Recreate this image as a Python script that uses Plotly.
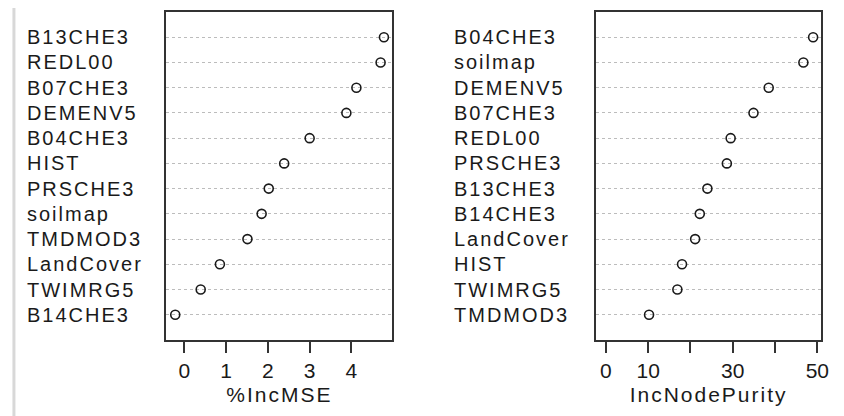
import plotly.graph_objects as go

# Left panel: %IncMSE (top to bottom)
mse_names = ["B13CHE3", "REDL00", "B07CHE3", "DEMENV5", "B04CHE3", "HIST",
             "PRSCHE3", "soilmap", "TMDMOD3", "LandCover", "TWIMRG5", "B14CHE3"]
mse_vals = [4.78, 4.70, 4.12, 3.88, 3.00, 2.39, 2.02, 1.85, 1.51, 0.85, 0.39, -0.22]

# Right panel: IncNodePurity (top to bottom)
inp_names = ["B04CHE3", "soilmap", "DEMENV5", "B07CHE3", "REDL00", "PRSCHE3",
             "B13CHE3", "B14CHE3", "LandCover", "HIST", "TWIMRG5", "TMDMOD3"]
inp_vals = [49.0, 46.7, 38.5, 34.9, 29.5, 28.6, 24.0, 22.2, 21.1, 18.0, 16.9, 10.2]

mse_ticks = [0, 1, 2, 3, 4]
inp_ticks = [0, 10, 20, 30, 40, 50]
inp_ticktext = ["0", "10", "", "30", "", "50"]

# the page body adds an 8px margin, so the figure is drawn 8px smaller
OFF = 8
W, H = 844 - OFF, 416 - OFF
FONT = "Liberation Sans, Arial, sans-serif"
INK = "#1a1a1a"


def px(x):
    return (x - OFF) / W


def py(y):
    return 1 - (y - OFF) / H


n = len(mse_names)
rows = list(range(n, 0, -1))

fig = go.Figure()
mk = dict(symbol="circle-open", size=9, color=INK, line=dict(width=1.6, color=INK))
fig.add_trace(go.Scatter(x=mse_vals, y=rows, mode="markers", xaxis="x", yaxis="y",
                         marker=mk, showlegend=False, hoverinfo="skip"))
fig.add_trace(go.Scatter(x=inp_vals, y=rows, mode="markers", xaxis="x2", yaxis="y2",
                         marker=mk, showlegend=False, hoverinfo="skip"))


def sp(t):
    return '<span style="letter-spacing:2px">' + t + '</span>'


annotations = []
for name, r in zip(mse_names, rows):
    annotations.append(dict(text=sp(name), x=px(25), xref="paper", y=r, yref="y",
                            xanchor="left", yanchor="middle", showarrow=False,
                            font=dict(family=FONT, size=20, color=INK)))
for name, r in zip(inp_names, rows):
    annotations.append(dict(text=sp(name), x=px(456), xref="paper", y=r, yref="y2",
                            xanchor="left", yanchor="middle", showarrow=False,
                            font=dict(family=FONT, size=20, color=INK)))

axis_common = dict(showline=True, mirror=True, linecolor="#333333", linewidth=1.5,
                   zeroline=False)
yaxis_common = dict(axis_common, range=[0, 13], tickvals=rows, showticklabels=False,
                    ticks="", showgrid=True, gridcolor="#bcbcbc", gridwidth=1,
                    griddash="3px,3px", domain=[py(340), py(12)])
xaxis_common = dict(axis_common, showgrid=False, ticks="outside", ticklen=11,
                    tickwidth=1.5, tickcolor="#333333", ticklabelstandoff=0,
                    tickfont=dict(family=FONT, size=21, color=INK))

fig.update_layout(
    width=W, height=H, autosize=False,
    margin=dict(l=0, r=0, t=0, b=0),
    paper_bgcolor="white", plot_bgcolor="white",
    xaxis=dict(xaxis_common, domain=[px(168), px(396)], range=[-0.43, 4.98],
               tickvals=mse_ticks, anchor="y",
               title=dict(text=sp("%IncMSE"), standoff=6,
                          font=dict(family=FONT, size=21, color=INK))),
    yaxis=dict(yaxis_common, anchor="x"),
    xaxis2=dict(xaxis_common, domain=[px(601.7), px(829)], range=[-2.34, 50.9],
                tickvals=inp_ticks, ticktext=inp_ticktext, anchor="y2",
                title=dict(text=sp("IncNodePurity"), standoff=6,
                           font=dict(family=FONT, size=21, color=INK))),
    yaxis2=dict(yaxis_common, anchor="x2"),
    annotations=annotations,
    shapes=[
        dict(type="line", xref="paper", yref="paper", x0=px(14), x1=px(14),
             y0=0, y1=1, line=dict(color="#d8d8d8", width=3)),
    ],
)

fig.write_html("out.html")
